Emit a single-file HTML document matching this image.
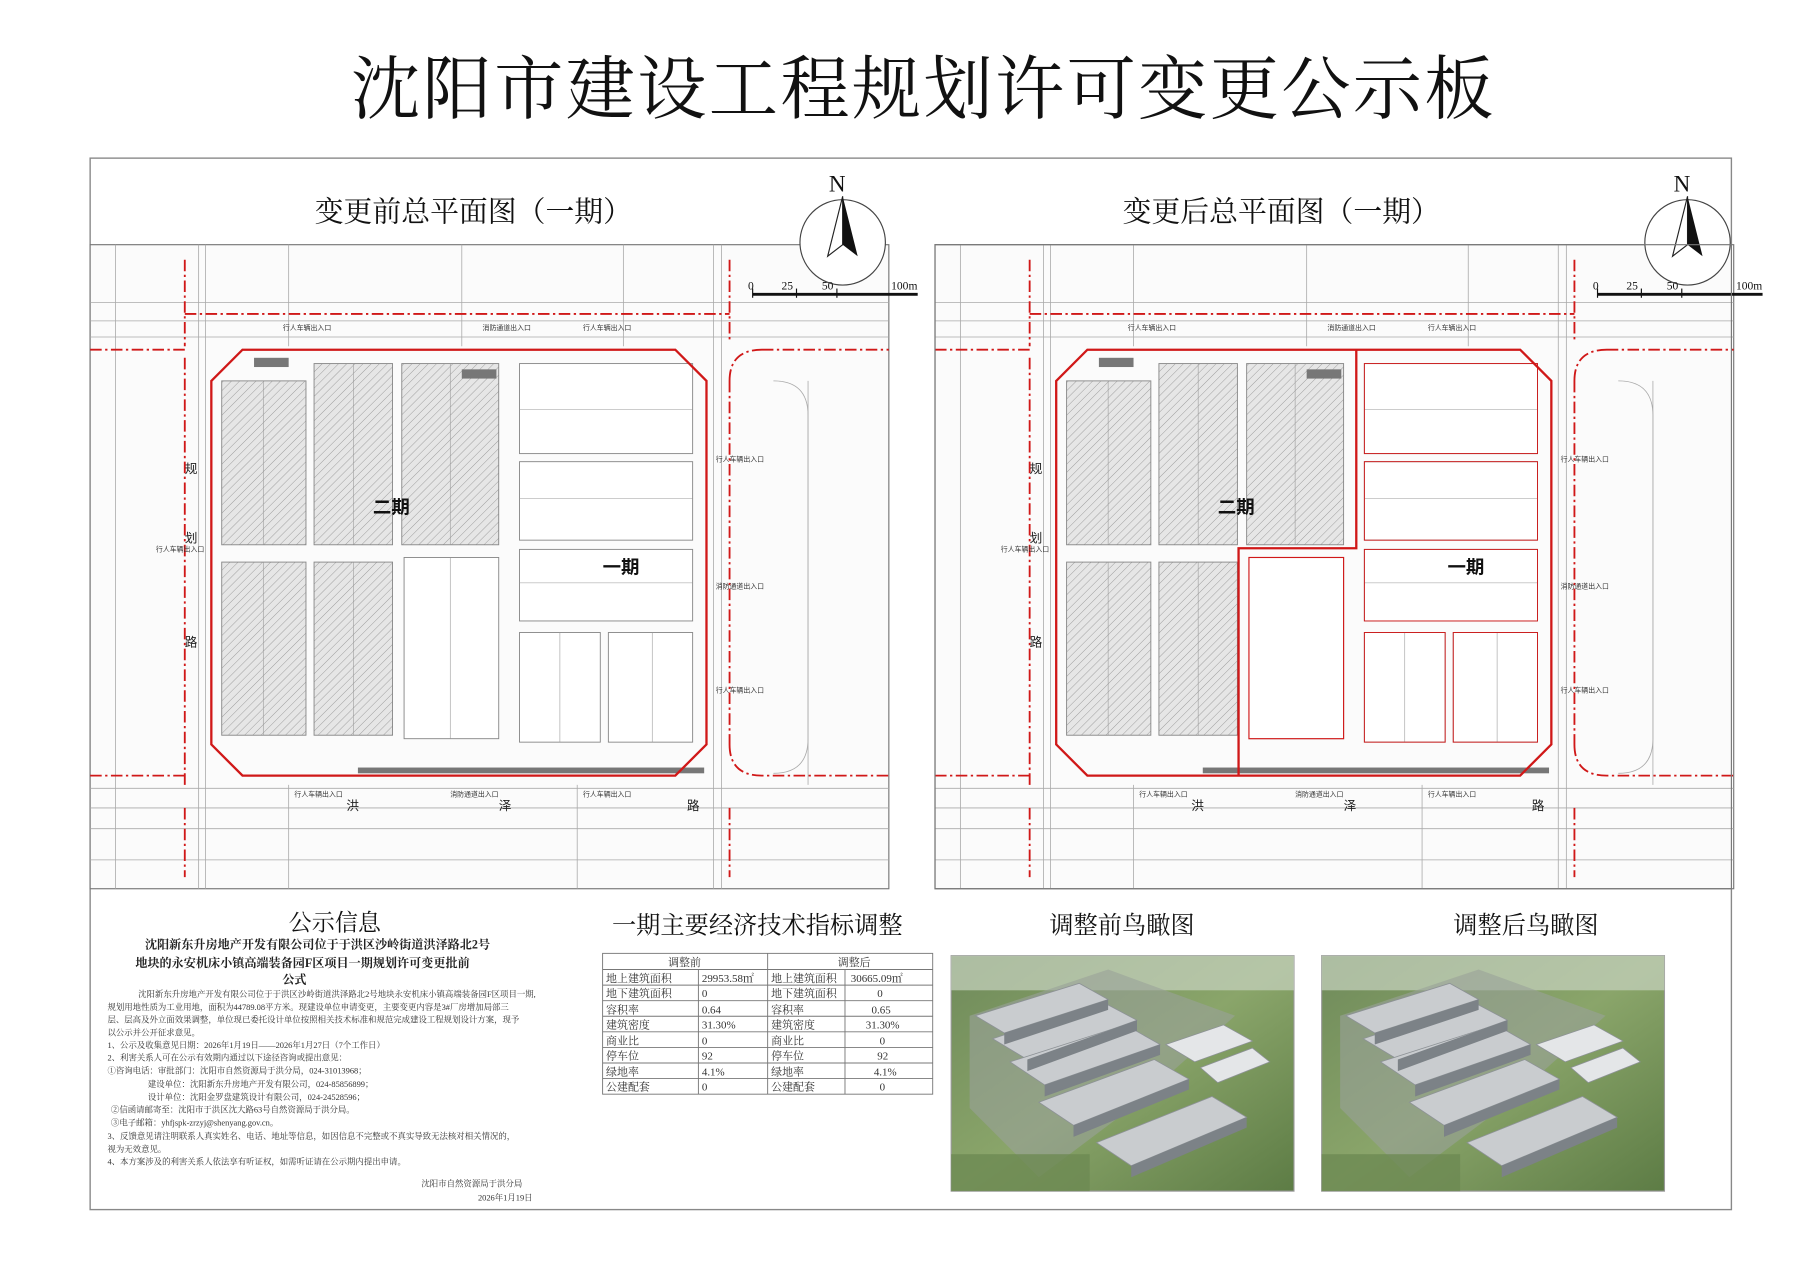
<!DOCTYPE html>
<html><head><meta charset="utf-8"><style>
html,body{margin:0;padding:0;background:#fff;}
svg{display:block;}
.s{font-family:"Liberation Serif","Noto Serif CJK SC",serif;}
.a{font-family:"Liberation Sans","Noto Sans CJK SC",sans-serif;}
</style></head><body>
<svg width="1810" height="1280" viewBox="0 0 1568 1109" xmlns="http://www.w3.org/2000/svg">
<defs>
<pattern id="h" width="5" height="5" patternUnits="userSpaceOnUse" patternTransform="rotate(45)">
<rect width="5" height="5" fill="#e6e6e6"/><line x1="0" y1="0" x2="0" y2="5" stroke="#9a9a9a" stroke-width="0.8"/></pattern>
<linearGradient id="gr" x1="0" y1="0" x2="1" y2="1"><stop offset="0" stop-color="#6f8a5a"/><stop offset="0.5" stop-color="#8aa56a"/><stop offset="1" stop-color="#5d7c45"/></linearGradient>
<g id="plan">
<rect x="78" y="212" width="692" height="558" fill="#fbfbfb" stroke="#777" stroke-width="1"/>
<g stroke="#aaa" stroke-width="0.7" fill="none">
<line x1="78" y1="262" x2="770" y2="262"/><line x1="78" y1="278" x2="770" y2="278"/><line x1="78" y1="292" x2="770" y2="292"/>
<line x1="78" y1="683" x2="770" y2="683"/><line x1="78" y1="700" x2="770" y2="700"/><line x1="78" y1="718" x2="770" y2="718"/><line x1="78" y1="745" x2="770" y2="745"/>
<line x1="100" y1="212" x2="100" y2="770"/><line x1="172" y1="212" x2="172" y2="770"/><line x1="178" y1="212" x2="178" y2="770"/>
<line x1="618" y1="212" x2="618" y2="770"/><line x1="625" y1="212" x2="625" y2="770"/><line x1="700" y1="330" x2="700" y2="680"/>
<path d="M670 330 Q700 330 700 360 L700 640 Q700 670 670 670"/>
<line x1="250" y1="212" x2="250" y2="300"/><line x1="400" y1="212" x2="400" y2="300"/><line x1="540" y1="212" x2="540" y2="300"/>
<line x1="250" y1="680" x2="250" y2="770"/><line x1="500" y1="680" x2="500" y2="770"/>
</g>
<g stroke="#d01818" stroke-width="1.6" fill="none" stroke-dasharray="10 3 2 3">
<line x1="160" y1="225" x2="160" y2="300"/><line x1="160" y1="310" x2="160" y2="680"/><line x1="160" y1="700" x2="160" y2="760"/>
<line x1="78" y1="303" x2="160" y2="303"/><line x1="78" y1="672" x2="160" y2="672"/>
<path d="M660 303 L770 303 M632 330 L632 645 M632 330 Q632 303 660 303 M632 645 Q632 672 660 672 L770 672"/>
<line x1="632" y1="225" x2="632" y2="295"/><line x1="632" y1="700" x2="632" y2="760"/>
<line x1="160" y1="272" x2="632" y2="272"/>
</g>
<g stroke="#888" stroke-width="0.8">
<rect x="192" y="330" width="73" height="142" fill="url(#h)"/>
<rect x="272" y="315" width="68" height="157" fill="url(#h)"/>
<rect x="348" y="315" width="84" height="157" fill="url(#h)"/>
<rect x="192" y="487" width="73" height="150" fill="url(#h)"/>
<rect x="272" y="487" width="68" height="150" fill="url(#h)"/>
<rect x="350" y="483" width="82" height="157" fill="#fff"/>
<rect x="450" y="315" width="150" height="78" fill="#fff"/>
<rect x="450" y="400" width="150" height="68" fill="#fff"/>
<rect x="450" y="476" width="150" height="62" fill="#fff"/>
<rect x="450" y="548" width="70" height="95" fill="#fff"/>
<rect x="527" y="548" width="73" height="95" fill="#fff"/>
</g>
<g stroke="#999" stroke-width="0.5">
<line x1="228" y1="330" x2="228" y2="472"/><line x1="306" y1="315" x2="306" y2="472"/><line x1="390" y1="315" x2="390" y2="472"/>
<line x1="228" y1="487" x2="228" y2="637"/><line x1="306" y1="487" x2="306" y2="637"/><line x1="390" y1="483" x2="390" y2="640"/>
<line x1="450" y1="355" x2="600" y2="355"/><line x1="450" y1="432" x2="600" y2="432"/><line x1="450" y1="505" x2="600" y2="505"/>
<line x1="485" y1="548" x2="485" y2="643"/><line x1="565" y1="548" x2="565" y2="643"/>
</g>
<g fill="#444"><rect x="310" y="665" width="300" height="5" fill="#777"/>
<rect x="220" y="310" width="30" height="8" fill="#777"/><rect x="400" y="320" width="30" height="8" fill="#777"/>
</g>
<path d="M183 330 L210 303 L585 303 L612 330 L612 645 L585 672 L210 672 L183 645 Z" fill="none" stroke="#d01818" stroke-width="2"/>
<g class="a" font-size="6" fill="#333">
<text x="245" y="286">行人车辆出入口</text><text x="418" y="286">消防通道出入口</text><text x="505" y="286">行人车辆出入口</text>
<text x="255" y="690">行人车辆出入口</text><text x="390" y="690">消防通道出入口</text><text x="505" y="690">行人车辆出入口</text>
<text x="620" y="400">行人车辆出入口</text><text x="620" y="510">消防通道出入口</text><text x="620" y="600">行人车辆出入口</text>
<text x="135" y="478">行人车辆出入口</text>
</g>
<g class="a" font-size="11" fill="#222"><text x="160" y="410">规</text><text x="160" y="470">划</text><text x="160" y="560">路</text>
<text x="300" y="702">洪</text><text x="432" y="702">泽</text><text x="595" y="702">路</text></g>
<g class="a" font-size="16" font-weight="bold" fill="#111"><text x="323" y="445">二期</text><text x="522" y="497">一期</text></g>
<circle cx="730" cy="210" r="37" fill="#fff" stroke="#444" stroke-width="1"/>
<path d="M730 170 L717 222 L730 212 Z" fill="#fff" stroke="#222"/><path d="M730 170 L743 222 L730 212 Z" fill="#111"/>
<text x="718" y="166" class="s" font-size="20" fill="#111">N</text>
<g stroke="#111"><line x1="652" y1="255" x2="795" y2="255" stroke-width="2.5"/><line x1="652" y1="250" x2="652" y2="258"/><line x1="690" y1="250" x2="690" y2="258"/><line x1="725" y1="250" x2="725" y2="258"/></g>
<g class="s" font-size="10" fill="#111"><text x="648" y="251">0</text><text x="677" y="251">25</text><text x="712" y="251">50</text><text x="772" y="251">100m</text></g>
</g>
</defs>
<rect width="1568" height="1109" fill="#fff"/>
<text x="800" y="98" text-anchor="middle" class="s" font-size="60" fill="#111" letter-spacing="2">沈阳市建设工程规划许可变更公示板</text>
<rect x="78" y="137" width="1422" height="911" fill="none" stroke="#888" stroke-width="1.2"/>
<text x="410" y="192" text-anchor="middle" class="s" font-size="25" fill="#111">变更前总平面图（一期）</text>
<text x="1110" y="192" text-anchor="middle" class="s" font-size="25" fill="#111">变更后总平面图（一期）</text>
<use href="#plan"/>
<use href="#plan" transform="translate(732,0)"/>
<rect x="810" y="212" width="690" height="558" fill="none" stroke="#777"/>
<path d="M1175 303 L1175 475 L1073 475 L1073 672" fill="none" stroke="#d01818" stroke-width="2"/>
<rect x="1082" y="483" width="82" height="157" fill="#fff" stroke="#d01818" stroke-width="1"/>
<g fill="none" stroke="#d01818" stroke-width="0.8"><rect x="1182" y="315" width="150" height="78"/><rect x="1182" y="400" width="150" height="68"/><rect x="1182" y="476" width="150" height="62"/><rect x="1182" y="548" width="70" height="95"/><rect x="1259" y="548" width="73" height="95"/></g>
<text x="290" y="806" text-anchor="middle" class="s" font-size="20" fill="#111">公示信息</text>
<g class="s" font-size="10.5" fill="#222" font-weight="bold">
<text x="275" y="822" text-anchor="middle">沈阳新东升房地产开发有限公司位于于洪区沙岭街道洪泽路北2号</text>
<text x="262" y="838" text-anchor="middle">地块的永安机床小镇高端装备园F区项目一期规划许可变更批前</text>
<text x="255" y="852" text-anchor="middle">公式</text></g>
<g class="s" font-size="7.3" fill="#333">
<text x="105" y="864">　　沈阳新东升房地产开发有限公司位于于洪区沙岭街道洪泽路北2号地块永安机床小镇高端装备园F区项目一期,</text>
<text x="93" y="875">规划用地性质为工业用地，面积为44789.08平方米。现建设单位申请变更，主要变更内容是3#厂房增加局部三</text>
<text x="93" y="886">层、层高及外立面效果调整，单位现已委托设计单位按照相关技术标准和规范完成建设工程规划设计方案，现予</text>
<text x="93" y="897">以公示并公开征求意见。</text>
<text x="93" y="908">1、公示及收集意见日期：2026年1月19日——2026年1月27日（7个工作日）</text>
<text x="93" y="919">2、利害关系人可在公示有效期内通过以下途径咨询或提出意见：</text>
<text x="93" y="930">①咨询电话：审批部门：沈阳市自然资源局于洪分局，024-31013968；</text>
<text x="128" y="942">建设单位：沈阳新东升房地产开发有限公司，024-85856899；</text>
<text x="128" y="953">设计单位：沈阳金罗盘建筑设计有限公司，024-24528596；</text>
<text x="96" y="964">②信函请邮寄至：沈阳市于洪区沈大路63号自然资源局于洪分局。</text>
<text x="96" y="975">③电子邮箱：yhfjspk-zrzyj@shenyang.gov.cn。</text>
<text x="93" y="987">3、反馈意见请注明联系人真实姓名、电话、地址等信息，如因信息不完整或不真实导致无法核对相关情况的，</text>
<text x="93" y="998">视为无效意见。</text>
<text x="93" y="1009">4、本方案涉及的利害关系人依法享有听证权，如需听证请在公示期内提出申请。</text>
<text x="365" y="1028">沈阳市自然资源局于洪分局</text>
<text x="414" y="1040">2026年1月19日</text></g>
<text x="656" y="809" text-anchor="middle" class="s" font-size="21" fill="#111">一期主要经济技术指标调整</text>
<g stroke="#777" stroke-width="0.8" fill="none">
<rect x="522" y="826" width="286" height="122"/>
<line x1="665" y1="826" x2="665" y2="948"/><line x1="605" y1="840" x2="605" y2="948"/><line x1="732" y1="840" x2="732" y2="948"/>
<line x1="522" y1="840" x2="808" y2="840"/><line x1="522" y1="853.5" x2="808" y2="853.5"/><line x1="522" y1="867" x2="808" y2="867"/><line x1="522" y1="880.5" x2="808" y2="880.5"/><line x1="522" y1="894" x2="808" y2="894"/><line x1="522" y1="907.5" x2="808" y2="907.5"/><line x1="522" y1="921" x2="808" y2="921"/><line x1="522" y1="934.5" x2="808" y2="934.5"/>
</g>
<g class="s" font-size="9.5" fill="#333">
<text x="593" y="837" text-anchor="middle">调整前</text><text x="740" y="837" text-anchor="middle">调整后</text>
<text x="525" y="851">地上建筑面积</text><text x="608" y="851">29953.58㎡</text><text x="668" y="851">地上建筑面积</text><text x="737" y="851">30665.09㎡</text>
<text x="525" y="864">地下建筑面积</text><text x="608" y="864">0</text><text x="668" y="864">地下建筑面积</text><text x="760" y="864">0</text>
<text x="525" y="878">容积率</text><text x="608" y="878">0.64</text><text x="668" y="878">容积率</text><text x="755" y="878">0.65</text>
<text x="525" y="891">建筑密度</text><text x="608" y="891">31.30%</text><text x="668" y="891">建筑密度</text><text x="750" y="891">31.30%</text>
<text x="525" y="905">商业比</text><text x="608" y="905">0</text><text x="668" y="905">商业比</text><text x="762" y="905">0</text>
<text x="525" y="918">停车位</text><text x="608" y="918">92</text><text x="668" y="918">停车位</text><text x="760" y="918">92</text>
<text x="525" y="932">绿地率</text><text x="608" y="932">4.1%</text><text x="668" y="932">绿地率</text><text x="757" y="932">4.1%</text>
<text x="525" y="945">公建配套</text><text x="608" y="945">0</text><text x="668" y="945">公建配套</text><text x="762" y="945">0</text>
</g>
<text x="972" y="809" text-anchor="middle" class="s" font-size="21" fill="#111">调整前鸟瞰图</text>
<text x="1322" y="809" text-anchor="middle" class="s" font-size="21" fill="#111">调整后鸟瞰图</text>
<g id="aer">
<rect x="824" y="828" width="297" height="204" fill="url(#gr)" stroke="#999"/>
<rect x="824" y="828" width="297" height="30" fill="#c8d3c0" opacity="0.7"/>
<polygon points="840,880 960,840 1070,880 980,960 900,1020 840,960" fill="#9aa29a" opacity="0.6"/>
<g fill="#c9cccf" stroke="#8d9296" stroke-width="0.7">
<polygon points="845,880 935,852 960,866 870,895"/>
<polygon points="860,900 955,868 985,884 890,918"/>
<polygon points="875,920 975,888 1005,905 905,940"/>
<polygon points="900,955 1000,918 1030,935 930,975"/>
<polygon points="950,990 1050,950 1080,968 980,1010"/>
<polygon points="1010,905 1060,888 1085,902 1035,920" fill="#e4e6e8"/>
<polygon points="1040,925 1085,908 1100,920 1055,938" fill="#e4e6e8"/>
</g>
<g fill="#7c8287"><polygon points="870,895 960,866 960,875 870,905"/><polygon points="890,918 985,884 985,893 890,928"/><polygon points="905,940 1005,905 1005,914 905,950"/><polygon points="930,975 1030,935 1030,944 930,985"/><polygon points="980,1010 1080,968 1080,977 980,1020"/></g>
<rect x="824" y="1000" width="120" height="32" fill="#6d8a52" opacity="0.8"/>
</g>
<use href="#aer" transform="translate(321,0)"/>
</svg>
</body></html>
